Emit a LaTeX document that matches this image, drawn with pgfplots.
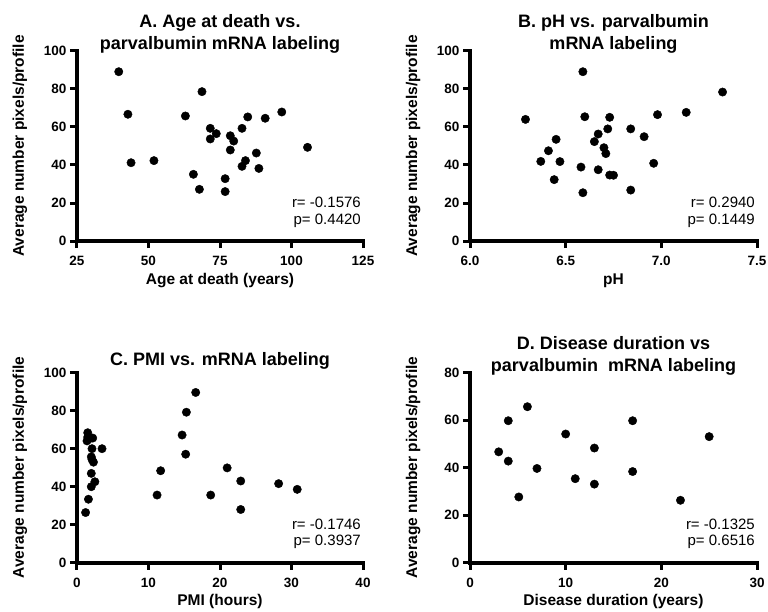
\documentclass[border=0pt]{standalone}
\usepackage{fontspec}
\setmainfont{Liberation Sans}
\usepackage{pgfplots}
\pgfplotsset{compat=1.18}

\pgfplotsset{
  gp/.style={
    scale only axis, width=286pt, height=190pt,
    anchor=south west,
    axis x line*=bottom, axis y line*=left,
    separate axis lines,
    every outer x axis line/.append style={line width=4pt, line cap=rect},
    every outer y axis line/.append style={line width=4pt, line cap=rect},
    tick align=outside, major tick length=7pt,
    every major tick/.append style={black, line width=3pt},
    minor tick num=0,
    enlargelimits=false, clip=false,
    /pgf/number format/assume math mode=true,
    ticklabel style={font=\fontsize{13.5}{16}\selectfont\bfseries},
    xticklabel style={yshift=-5pt},
    xlabel style={font=\fontsize{15.5}{18}\selectfont\bfseries,
      at={([yshift=-43pt]axis description cs:0.5,0)}, anchor=base},
    ylabel style={font=\fontsize{15.5}{18}\selectfont\bfseries,
      at={([xshift=-53pt]axis description cs:0,0.5)}, anchor=base},
    title style={font=\fontsize{18}{22}\selectfont\bfseries, align=center,
      at={(axis description cs:0.5,1)}, anchor=south, inner sep=0pt, yshift=-9pt},
    ylabel={Average number pixels/profile},
    every axis plot post/.append style={black, only marks, mark=*,
      mark size=4.2pt, mark options={fill=black, draw=black}},
  },
}
\tikzset{rp/.style={anchor=base east, font=\fontsize{15}{17}\selectfont, inner sep=0pt}}

\begin{document}
\begin{tikzpicture}
\useasboundingbox (0,0) rectangle (768pt,-612pt);

% A. age at death
\begin{axis}[gp, at={(77pt,-241pt)},
  xmin=25, xmax=125, ymin=0, ymax=100,
  xtick={25,50,75,100,125}, ytick={0,20,40,60,80,100},
  title={A. Age at death vs.\\parvalbumin mRNA labeling},
  xlabel={Age at death (years)}]
\addplot coordinates {
(39.6,89.1) (42.8,66.7) (43.9,41.2) (51.9,42.3) (62.9,65.8) (68.7,78.6)
(71.6,59.3) (71.6,53.7) (73.7,56.5) (65.7,35.1) (67.8,27.2) (76.8,32.8)
(76.8,26.0) (78.6,55.4) (79.8,52.6) (78.6,47.9) (82.7,59.3) (84.7,65.3)
(82.7,39.3) (83.9,42.3) (87.7,46.3) (88.6,38.2) (90.8,64.6) (96.6,67.9)
(105.6,49.3)};
\node[rp] at (rel axis cs:0.993,0.176) {r= -0.1576};
\node[rp] at (rel axis cs:0.993,0.089) {p= 0.4420};
\end{axis}

% B. pH
\begin{axis}[gp, at={(470pt,-241pt)}, width=287pt,
  xmin=6, xmax=7.5, ymin=0, ymax=100,
  xtick={6,6.5,7,7.5}, xticklabels={6.0,6.5,7.0,7.5},
  ytick={0,20,40,60,80,100},
  title={B. pH vs. parvalbumin\\mRNA labeling},
  xlabel={pH}]
\addplot coordinates {
(6.29,64.0) (6.59,89.1) (6.60,65.4) (6.73,65.1) (6.72,59.0) (6.67,56.3)
(6.65,52.3) (6.45,53.5) (6.41,47.5) (6.37,41.9) (6.47,41.8) (6.44,32.3)
(6.58,38.9) (6.59,25.4) (6.67,37.5) (6.73,34.7) (6.75,34.6) (6.70,49.1)
(6.71,46.0) (6.84,59.0) (6.91,54.9) (6.84,26.8) (6.98,66.5) (6.96,40.9)
(7.13,67.7) (7.32,78.4)};
\node[rp] at (rel axis cs:0.993,0.176) {r= 0.2940};
\node[rp] at (rel axis cs:0.993,0.089) {p= 0.1449};
\end{axis}

% C. PMI
\begin{axis}[gp, at={(77pt,-562.5pt)},
  xmin=0, xmax=40, ymin=0, ymax=100,
  xtick={0,10,20,30,40}, ytick={0,20,40,60,80,100},
  title={C. PMI vs. mRNA labeling},
  title style={yshift=6pt},
  xlabel={PMI (hours)}]
\addplot coordinates {
(1.2,26.3) (1.6,33.3) (1.4,64.0) (1.5,66.0) (1.5,68.3) (1.9,65.4)
(2.2,65.5) (2.1,59.9) (2.0,55.6) (2.1,54.2) (2.3,52.8) (2.0,46.9)
(2.0,39.9) (2.5,42.5) (3.5,59.9) (11.2,35.5) (11.7,48.3) (14.7,67.1)
(15.2,57.0) (15.3,79.1) (16.6,89.5) (18.7,35.5) (21.0,49.8) (22.9,42.9)
(22.9,27.9) (28.2,41.5) (30.8,38.5)};
\node[rp] at (rel axis cs:0.993,0.176) {r= -0.1746};
\node[rp] at (rel axis cs:0.993,0.089) {p= 0.3937};
\end{axis}

% D. disease duration
\begin{axis}[gp, at={(470pt,-562.5pt)}, width=287pt,
  xmin=0, xmax=30, ymin=0, ymax=80,
  xtick={0,10,20,30}, ytick={0,20,40,60,80},
  title={D. Disease duration vs\\parvalbumin\ \ mRNA labeling},
  xlabel={Disease duration (years)}]
\addplot coordinates {
(3.0,46.6) (4.0,59.7) (4.0,42.7) (5.1,27.6) (6.0,65.6) (7.0,39.6)
(10.0,54.1) (11.0,35.3) (13.0,48.2) (13.0,33.0) (17.0,59.7) (17.0,38.3)
(22.0,26.2) (25.0,53.0)};
\node[rp] at (rel axis cs:0.993,0.176) {r= -0.1325};
\node[rp] at (rel axis cs:0.993,0.089) {p= 0.6516};
\end{axis}
\end{tikzpicture}
\end{document}
